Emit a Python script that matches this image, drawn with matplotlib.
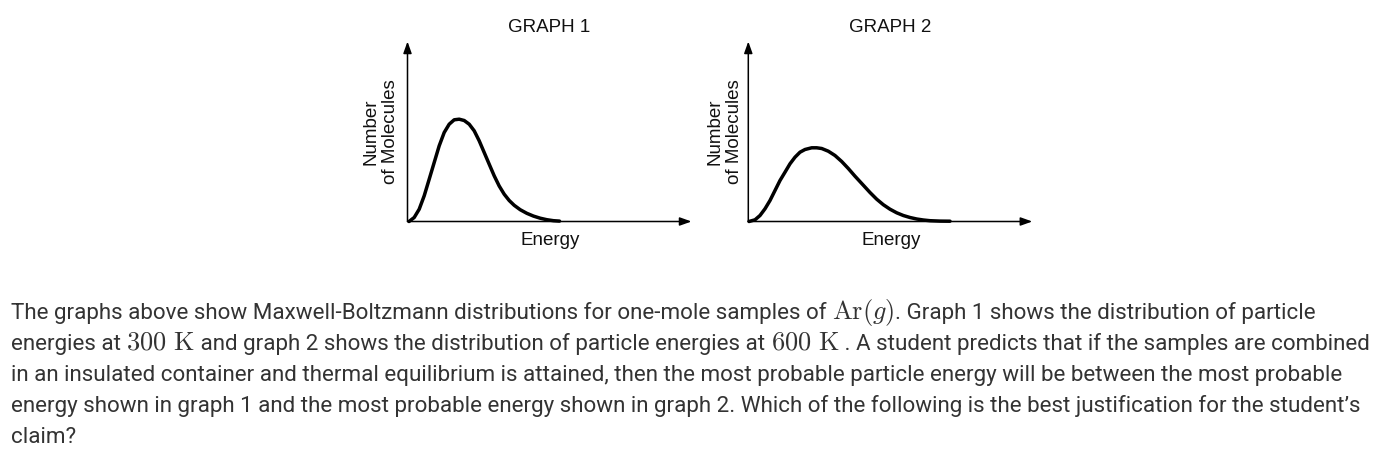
import matplotlib
matplotlib.use("Agg")
import matplotlib.pyplot as plt

# ---- data (units: pixels from each graph's origin) ----
g1_energy = [1.5, 6.7, 11.7, 16.7, 21.7, 26.7, 31.7, 36.7, 41.7, 46.7, 51.7, 56.7,
             61.7, 66.7, 71.7, 76.7, 81.7, 86.7, 91.7, 96.7, 101.7, 106.7, 112.7,
             119.3, 126, 132.7, 139.3, 146, 152]
g1_count = [0, 4, 12.3, 25.7, 42.3, 59, 75.7, 89, 97.3, 101.7, 102.3, 101, 97.3,
            90.7, 80.7, 69, 57.3, 45.7, 35.5, 27.3, 21, 16.2, 11.8, 8.2, 5.4, 3.3,
            1.8, 0.8, 0.4]

g2_energy = [0.7, 6.7, 11.7, 16.7, 21.7, 26.7, 31.7, 36.7, 41.7, 46.7, 51.7, 56.7,
             63.4, 68.4, 73.4, 80, 86.7, 93.4, 100, 106.7, 115, 121.7, 128.4, 135,
             141.7, 148.4, 155, 161.7, 168.4, 175, 181.7, 191.7, 201.7]
g2_count = [0, 1.7, 6, 12.7, 21, 31, 41, 49.3, 57.7, 64.3, 69.3, 72, 73.7, 73.7,
            73, 70.3, 66, 60, 53, 45.3, 36.3, 29, 22.3, 16.8, 12.3, 8.7, 6, 4,
            2.5, 1.5, 0.8, 0.4, 0.3]

titles = ["GRAPH 1", "GRAPH 2"]
xlabel = "Energy"
ylabel = "Number\nof Molecules"

# paragraph lines as (text, is_math) segments
paragraph = [
    [("The graphs above show Maxwell-Boltzmann distributions for one-mole samples of ", False),
     (r"$\mathrm{Ar}(g)$", True),
     (". Graph 1 shows the distribution of particle", False)],
    [("energies at ", False), (r"$300\ \mathrm{K}$", True),
     (" and graph 2 shows the distribution of particle energies at ", False),
     (r"$600\ \mathrm{K}$", True),
     (" . A student predicts that if the samples are combined", False)],
    [("in an insulated container and thermal equilibrium is attained, then the most probable particle energy will be between the most probable", False)],
    [("energy shown in graph 1 and the most probable energy shown in graph 2. Which of the following is the best justification for the student’s", False)],
    [("claim?", False)],
]

W, H = 1378, 449
plt.rcParams["mathtext.fontset"] = "cm"
fig = plt.figure(figsize=(W / 100, H / 100), dpi=100)
fig.patch.set_facecolor("white")


def fx(px):
    return px / W


def fy(py):
    return 1 - py / H


graph_specs = [
    dict(ox=407.5, oy=221.5, w=284, h=180, xs=g1_energy, ys=g1_count, cx=549, ycx=381),
    dict(ox=748.3, oy=221.5, w=284, h=180, xs=g2_energy, ys=g2_count, cx=890.5, ycx=725),
]

lab_font = dict(family=["Liberation Sans", "DejaVu Sans"], size=13.5, color="#111111")

for spec, title in zip(graph_specs, titles):
    ax = fig.add_axes([fx(spec["ox"]), fy(spec["oy"]), spec["w"] / W, spec["h"] / H])
    ax.set_xlim(0, spec["w"])
    ax.set_ylim(0, spec["h"])
    ax.axis("off")
    ax.patch.set_alpha(0)
    arrow = dict(arrowstyle="-|>,head_length=0.7,head_width=0.25", color="black",
                 lw=1.1, shrinkA=0, shrinkB=0)
    ax.annotate("", xy=(1, 0), xytext=(0, 0), xycoords="axes fraction",
                textcoords="axes fraction", arrowprops=arrow, annotation_clip=False)
    ax.annotate("", xy=(0, 1), xytext=(0, 0), xycoords="axes fraction",
                textcoords="axes fraction", arrowprops=arrow, annotation_clip=False)
    ax.plot(spec["xs"], spec["ys"], color="black", lw=2.5, solid_capstyle="round",
            solid_joinstyle="round", clip_on=False)
    fig.text(fx(spec["cx"]), fy(32), title, ha="center", va="baseline", **lab_font)
    fig.text(fx(spec["cx"] + 1), fy(245), xlabel, ha="center", va="baseline", **lab_font)
    fig.text(fx(spec["ycx"]), fy(132), ylabel, ha="center", va="center",
             rotation=90, multialignment="center", linespacing=1.2, **lab_font)

text_font = dict(family=["Roboto", "DejaVu Sans"], size=16.1, color="#333333")
math_font = dict(size=19, color="#333333")
renderer = fig.canvas.get_renderer()


def seg_width(s, kw):
    t1 = fig.text(0, 0, "|" + s + "|", **kw)
    t2 = fig.text(0, 0, "||", **kw)
    w = t1.get_window_extent(renderer).width - t2.get_window_extent(renderer).width
    t1.remove()
    t2.remove()
    return w


baselines = [319, 350, 381, 412, 443]
for segs, b in zip(paragraph, baselines):
    x = 11.0
    for s, is_math in segs:
        kw = math_font if is_math else text_font
        fig.text(fx(x), fy(b), s, ha="left", va="baseline", **kw)
        if is_math:
            t = fig.text(0, 0, s, **kw)
            w = t.get_window_extent(renderer).width
            t.remove()
        else:
            w = seg_width(s, kw)
        x += w

fig.savefig("out.png", dpi=100, facecolor="white")
